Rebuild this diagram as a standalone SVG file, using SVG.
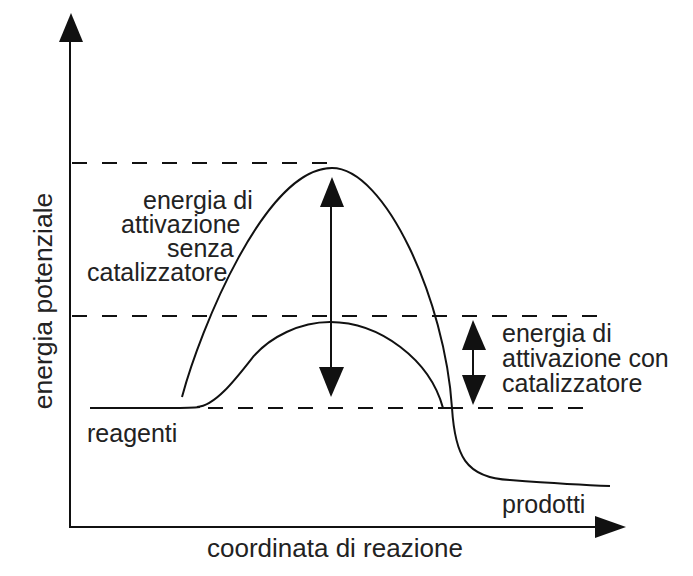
<svg xmlns="http://www.w3.org/2000/svg" width="693" height="576" viewBox="0 0 693 576">
<style>
.ln{fill:none;stroke:#111;stroke-width:2}
.dash{fill:none;stroke:#111;stroke-width:2;stroke-dasharray:15 15}
.ah{fill:#111;stroke:none}
text{font-family:"Liberation Sans",Arial,sans-serif;fill:#222}
.t25{font-size:25px}
.t26{font-size:26px}
</style>
<rect width="693" height="576" fill="#fff"/>
<g id="axes">
<path class="ln" d="M70,527 V40 M69,527 H598"/>
<polygon class="ah" points="71,13 59,42 83,42"/>
<polygon class="ah" points="626,527 595,516 595,538"/>
</g>
<g id="guides">
<path class="dash" d="M72,163 H332"/>
<path class="dash" d="M72,316 H598"/>
<path class="dash" d="M208,408 H598"/>
</g>
<g id="curves">
<path class="ln" d="M90,408 H170 C185,408 192,408 200,407"/>
<path class="ln" d="M182,397 C200,330 265,168 332,168 C385,168 445,300 452,408 C455,455 465,478 510,480 C550,483 580,485 610,486"/>
<path class="ln" d="M197,407 C215,406 235,380 253,357 C270,337 300,322 330,322 C380,322 430,360 443,408 M438,408 H451"/>
</g>
<g id="connectors">
<path class="ln" d="M331,205 V370"/>
<polygon class="ah" points="332,177 320,207 344,207"/>
<polygon class="ah" points="331,397 319,367 344,367"/>
<path class="ln" d="M473,348 V377"/>
<polygon class="ah" points="473,320 462,350 486,350"/>
<polygon class="ah" points="473,405 462,375 486,375"/>
</g>
<g id="label-y"><text class="t26" transform="translate(52,301) rotate(-90)" text-anchor="middle" style="font-size:26.5px">energia potenziale</text></g>
<g id="label-x"><text class="t26" x="207" y="557">coordinata di reazione</text></g>
<g id="label-senza"><text class="t25">
<tspan x="143" y="209">energia di</tspan>
<tspan x="121" y="233">attivazione</tspan>
<tspan x="167" y="257">senza</tspan>
<tspan x="87" y="281">catalizzatore</tspan>
</text></g>
<g id="label-con"><text class="t25">
<tspan x="502" y="342">energia di</tspan>
<tspan x="502" y="367">attivazione con</tspan>
<tspan x="502" y="392">catalizzatore</tspan>
</text></g>
<g id="label-reagenti"><text class="t25" x="87" y="442">reagenti</text></g>
<g id="label-prodotti"><text class="t25" x="502" y="513">prodotti</text></g>
</svg>
